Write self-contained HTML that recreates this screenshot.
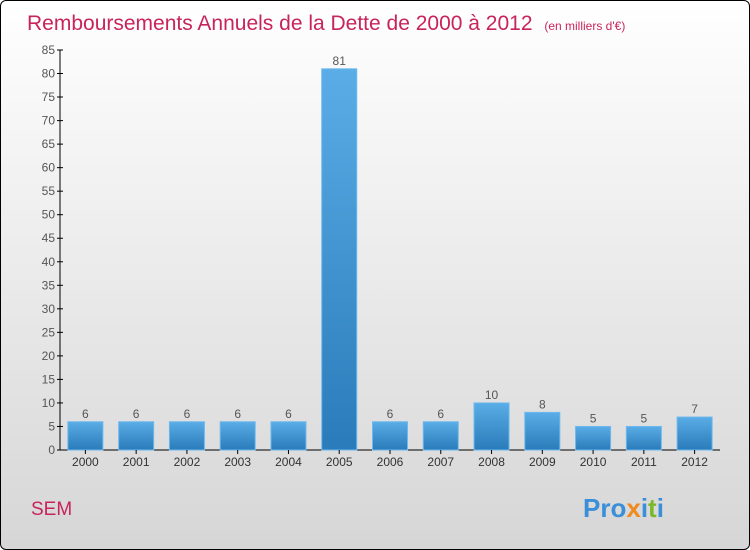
<!DOCTYPE html>
<html><head><meta charset="utf-8"><style>
body{margin:0;}
#c{width:748px;height:548px;border:1px solid #000;border-radius:6px;overflow:hidden;background:linear-gradient(#fff,#d6d6d6);position:relative;font-family:"Liberation Sans",sans-serif;}
</style></head><body>
<div id="c">
<svg width="748" height="548" xmlns="http://www.w3.org/2000/svg" id="svg">
<defs><linearGradient id="bg" x1="0" y1="0" x2="0" y2="1"><stop offset="0" stop-color="#5aade6"/><stop offset="1" stop-color="#2a7bba"/></linearGradient></defs>
<text x="26" y="29" font-size="21" fill="#c8245a">Remboursements Annuels de la Dette de 2000 à 2012 <tspan font-size="12" dx="6">(en milliers d'€)</tspan></text>
<text x="30" y="514" font-size="19" fill="#c8245a">SEM</text>
<text x="582" y="516" font-size="26" font-weight="bold"><tspan fill="#3a8fd8">Pro</tspan><tspan fill="#f08a1c">x</tspan><tspan fill="#3a8fd8">i</tspan><tspan fill="#7ab829">t</tspan><tspan fill="#3a8fd8">i</tspan></text>
<g id="plot"></g>
</svg>
</div>
<script>
const categories=["2000","2001","2002","2003","2004","2005","2006","2007","2008","2009","2010","2011","2012"];
const values=[6,6,6,6,6,81,6,6,10,8,5,5,7];
const yTicks=[0,5,10,15,20,25,30,35,40,45,50,55,60,65,70,75,80,85];
const NS="http://www.w3.org/2000/svg";
const g=document.getElementById("plot");
const y0=449,yTop=49,yMax=85,x0=59,x1=719;
const y=v=>y0-(v/yMax)*(y0-yTop);
const step=(x1-x0)/categories.length;
const xc=i=>x0+step*(i+0.5);
function mk(t,a){const e=document.createElementNS(NS,t);for(const k in a)e.setAttribute(k,a[k]);g.appendChild(e);return e;}
let ax=mk("line",{x1:x0,y1:yTop,x2:x0,y2:y0,stroke:"#000"});


let bx=mk("line",{x1:x0,y1:y0,x2:x1,y2:y0,stroke:"#000"});


yTicks.forEach(t=>{
 let l=mk("line",{x1:x0-3,y1:y(t),x2:x0+3,y2:y(t),stroke:"#000"});
 
 
 let tx=mk("text",{x:x0-5,y:y(t)+4,"font-size":12,fill:"#555","text-anchor":"end"});
 tx.textContent=t;
 
 
});
categories.forEach((c,i)=>{
 const v=values[i],w=35;
 let r=mk("rect",{x:xc(i)-w/2,y:y(v),width:w,height:y0-y(v),fill:"url(#bg)",stroke:"#6db8ee","stroke-width":1});
 
 
 let tk=mk("line",{x1:xc(i),y1:y0,x2:xc(i),y2:y0+4,stroke:"#000"});
 
 
 let xl=mk("text",{x:xc(i),y:y0+16,"font-size":12,fill:"#333","text-anchor":"middle"});
 xl.textContent=c;
 
 
 let vl=mk("text",{x:xc(i),y:y(v)-4,"font-size":12,fill:"#555","text-anchor":"middle"});
 vl.textContent=v;
 
 
});
</script>
</body></html>
